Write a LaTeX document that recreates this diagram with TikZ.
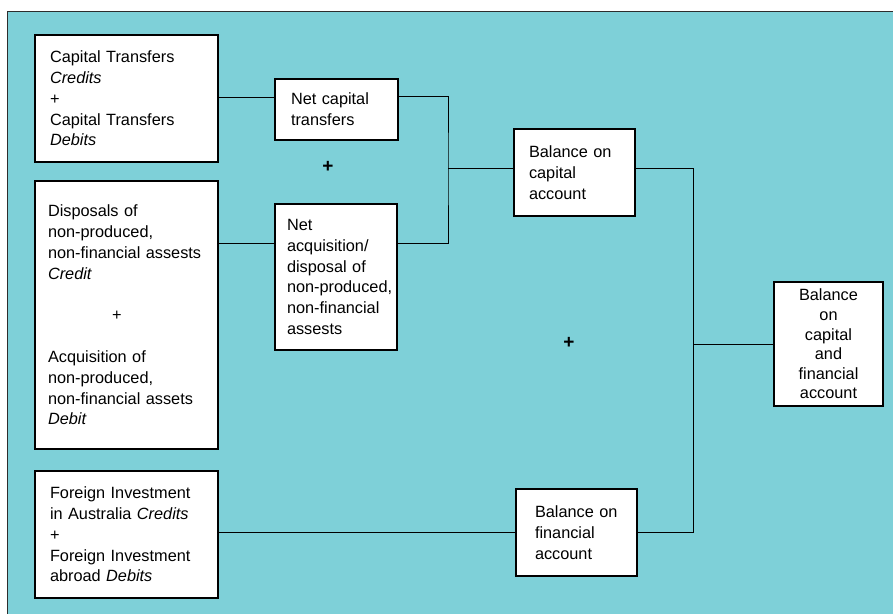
\documentclass[tikz,border=0pt]{standalone}
\usepackage{fontspec}
\setmainfont{Liberation Sans}
\definecolor{bopTeal}{RGB}{126, 208, 216}
\definecolor{bopGrey}{RGB}{45, 45, 45}
\exhyphenpenalty=10000
\hyphenpenalty=10000

\begin{document}
\begin{tikzpicture}[
    x=1pt, y=-1pt,
    acctbox/.style={rectangle, draw=black, line width=1.1pt, fill=white,
                    align=left, inner xsep=15pt, inner ysep=0pt,
                    font=\fontsize{16.3}{20.8}\selectfont},
    joinline/.style={draw=black, line width=1pt},
    plussign/.style={font=\fontsize{19}{20}\selectfont\bfseries, inner sep=0pt},
  ]
    \useasboundingbox (0,0) rectangle (893,613);
    \fill[bopTeal] (7,11) rectangle (900,620);
    \draw[bopGrey, line width=1pt] (900,11) -- (7,11) -- (7,620);

    \node[acctbox, text width=153pt, minimum height=127pt] (capTr) at (126.5,98.5) {
      Capital Transfers\\
      \textit{Credits}\\
      +\\
      Capital Transfers\\
      \textit{Debits}
    };

    \node[acctbox, inner xsep=13pt, text width=157pt, minimum height=268pt] (nonProd) at (126.5,315) {
      Disposals of\\
      non-produced,\\
      non-financial assests\\
      \textit{Credit}\\[20.8pt]
      \hspace*{64pt}+\\[20.8pt]
      Acquisition of\\
      non-produced,\\
      non-financial assets\\
      \textit{Debit}
    };

    \node[acctbox, text width=153pt, minimum height=127pt] (forInv) at (126.5,534.5) {
      Foreign Investment\\
      in Australia \textit{Credits}\\
      +\\
      Foreign Investment\\
      abroad \textit{Debits}
    };

    \node[acctbox, inner xsep=16pt, text width=91pt, minimum height=61pt] (netCap) at (336.5,109.5) {
      Net capital\\
      transfers
    };

    \node[acctbox, inner xsep=12pt, text width=98pt, minimum height=146pt] (netAcq) at (336,277) {
      Net\\
      acquisition/\\
      disposal of\\
      non-produced,\\
      non-financial\\
      assests
    };

    \node[acctbox, text width=91pt, minimum height=87pt] (balCap) at (574.5,172.5) {
      Balance on\\
      capital\\
      account
    };

    \node[acctbox, inner xsep=19pt, text width=83pt, minimum height=87pt] (balFin) at (576.5,532.5) {
      Balance on\\
      financial\\
      account
    };

    \node[acctbox, align=center, inner xsep=8pt, text width=93pt, minimum height=124pt,
          font=\fontsize{16.3}{19.6}\selectfont] (balTot) at (828.5,344) {
      Balance\\
      on\\
      capital\\
      and\\
      financial\\
      account
    };

    \node[plussign] (plusCap) at (328,167) {+};
    \node[plussign] (plusTot) at (569,343) {+};

    \coordinate (capJoin) at (448,168);
    \coordinate (totJoin) at (693,344);

    \draw[joinline] ([yshift=12.5pt]netCap.west) -- ([yshift=12.5pt]netCap.west -| capTr.east);
    \draw[joinline] ([yshift=34pt]netAcq.west) -- ([yshift=34pt]netAcq.west -| nonProd.east);
    \draw[joinline] ([yshift=13.5pt]netCap.east) -| (capJoin) |- ([yshift=34pt]netAcq.east);
    \draw[joinline] (capJoin) -- (capJoin -| balCap.west);
    \draw[joinline] (capJoin -| balCap.east) -| (totJoin) |- (balFin.east);
    \draw[joinline] (totJoin) -- (balTot.west);
    \draw[joinline] (balFin.west) -- (balFin.west -| forInv.east);
  \end{tikzpicture}
\end{document}
